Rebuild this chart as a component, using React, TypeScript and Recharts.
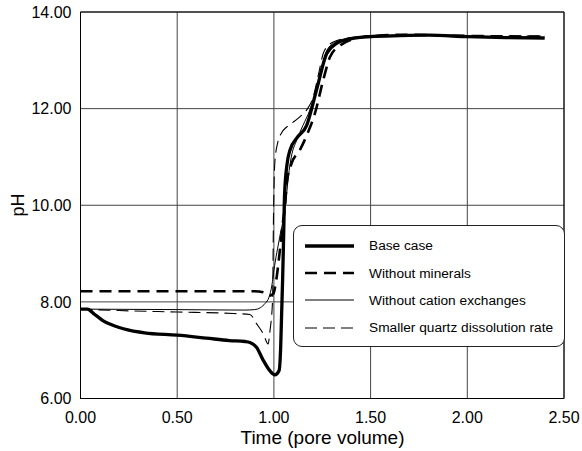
import { LineChart, Line, XAxis, YAxis, CartesianGrid, Legend, ReferenceArea } from 'recharts';

// [pore volume, pH]
const baseCase: [number, number][] = [
    [0, 7.85], [0.035, 7.85], [0.05, 7.82], [0.07, 7.75], [0.09, 7.69], [0.12, 7.6], [0.158, 7.53],
    [0.2, 7.47], [0.245, 7.42], [0.331, 7.36], [0.5, 7.31], [0.65, 7.25], [0.77, 7.2], [0.85, 7.18],
    [0.876, 7.16], [0.91, 7.06], [0.945, 6.79], [0.98, 6.57], [1.005, 6.49], [1.027, 6.58],
    [1.035, 7.06], [1.04, 7.76], [1.045, 8.45], [1.05, 9.3], [1.055, 10.2], [1.068, 10.85],
    [1.083, 11.14], [1.12, 11.4], [1.169, 11.65], [1.22, 12.38], [1.273, 13.14], [1.324, 13.35],
    [1.4, 13.45], [1.5, 13.49], [1.65, 13.51], [1.8, 13.52], [2.0, 13.49], [2.2, 13.47], [2.4, 13.46],
];

const withoutMinerals: [number, number][] = [
    [0, 8.22], [0.9, 8.22], [0.945, 8.2], [0.965, 8.15], [0.98, 8.13], [0.997, 8.17], [1.012, 8.45],
    [1.031, 9.07], [1.048, 9.69], [1.057, 9.96], [1.066, 10.45], [1.09, 10.85], [1.134, 11.14],
    [1.17, 11.45], [1.212, 11.9], [1.255, 12.59], [1.29, 13.07], [1.34, 13.3], [1.4, 13.43],
    [1.5, 13.5], [1.7, 13.53], [1.9, 13.51], [2.1, 13.5], [2.4, 13.49],
];

const withoutCationExchanges: [number, number][] = [
    [0, 7.85], [0.5, 7.84], [0.85, 7.83], [0.9, 7.84], [0.93, 7.88], [0.955, 7.97], [0.975, 8.1],
    [0.99, 8.35], [1.0, 8.65], [1.03, 9.34], [1.06, 10.0], [1.075, 10.6], [1.09, 11.0],
    [1.117, 11.34], [1.15, 11.65], [1.186, 11.97], [1.238, 12.66], [1.273, 13.2], [1.32, 13.38],
    [1.4, 13.46], [1.55, 13.5], [1.75, 13.52], [2.0, 13.5], [2.4, 13.48],
];

const smallerQuartzRate: [number, number][] = [
    [0, 7.85], [0.2, 7.82], [0.5, 7.79], [0.79, 7.76], [0.876, 7.74], [0.91, 7.55], [0.945, 7.34],
    [0.97, 7.13], [0.98, 7.41], [0.993, 8.03], [0.998, 9.8], [1.005, 10.9],
    [1.02, 11.3], [1.04, 11.5], [1.066, 11.62], [1.1, 11.72], [1.134, 11.83], [1.169, 11.97],
    [1.203, 12.24], [1.23, 12.7], [1.255, 13.14], [1.28, 13.3], [1.307, 13.38], [1.4, 13.47],
    [1.55, 13.52], [1.75, 13.52], [2.0, 13.5], [2.4, 13.5],
];

const xTicks = [0, 0.5, 1, 1.5, 2, 2.5];
const yTicks = [6, 8, 10, 12, 14];

const series = [
    { name: 'Base case', points: baseCase, width: 3.3, dash: undefined },
    { name: 'Without minerals', points: withoutMinerals, width: 2.6, dash: '12 7' },
    { name: 'Without cation exchanges', points: withoutCationExchanges, width: 1, dash: undefined },
    { name: 'Smaller quartz dissolution rate', points: smallerQuartzRate, width: 1.1, dash: '12 6' },
];

const FONT = '"Liberation Sans", Arial, sans-serif';

const LegendBox = () => (
    <div style={{
        width: 272, height: 122, boxSizing: 'border-box', border: '1px solid #222', borderRadius: 9,
        background: '#fff', paddingTop: 6, fontFamily: FONT, fontSize: 13.7, color: '#000',
    }}>
        {series.map((s) => (
            <div key={s.name} style={{ height: 27.4, display: 'flex', alignItems: 'center' }}>
                <svg width={75} height={10} style={{ display: 'block' }}>
                    <line x1={11} x2={60} y1={5} y2={5} stroke="#000" strokeWidth={s.width} strokeDasharray={s.dash} />
                </svg>
                <span>{s.name}</span>
            </div>
        ))}
    </div>
);

const App = () => {
    return (
        <div style={{ position: 'absolute', left: 0, top: 0, background: '#fff' }}>
            <LineChart width={582} height={451} margin={{ top: 12, right: 18, bottom: 0, left: 0 }} style={{ fontFamily: FONT }}>
                <CartesianGrid stroke="#444" strokeWidth={1} />
                <XAxis
                    type="number"
                    dataKey="x"
                    domain={[0, 2.5]}
                    ticks={xTicks}
                    tickFormatter={(v: number) => v.toFixed(2)}
                    tickLine={false}
                    tickSize={0}
                    tickMargin={13}
                    height={52.5}
                    axisLine={{ stroke: '#000' }}
                    tick={{ fill: '#000', fontSize: 16 }}
                    label={{
                        content: () => (
                            <text x={322.5} y={443.5} textAnchor="middle" fontSize={19} fill="#000">Time (pore volume)</text>
                        ),
                    }}
                />
                <YAxis
                    type="number"
                    domain={[6, 14]}
                    ticks={yTicks}
                    tickFormatter={(v: number) => v.toFixed(2)}
                    tickLine={false}
                    tickSize={0}
                    tickMargin={9}
                    width={80.5}
                    axisLine={{ stroke: '#000' }}
                    tick={{ fill: '#000', fontSize: 16 }}
                    label={{
                        content: () => (
                            <text x={24} y={205} textAnchor="middle" fontSize={18} fill="#000" transform="rotate(-90, 24, 205)">pH</text>
                        ),
                    }}
                />
                <ReferenceArea x1={0} x2={2.5} y1={6} y2={14} fill="none" stroke="#000" strokeWidth={1} />
                {series.map((s) => (
                    <Line
                        key={s.name}
                        name={s.name}
                        data={s.points.map(([x, y]) => ({ x, y }))}
                        dataKey="y"
                        type="monotone"
                        stroke="#000"
                        strokeWidth={s.width}
                        strokeDasharray={s.dash}
                        dot={false}
                        activeDot={false}
                        isAnimationActive={false}
                    />
                ))}
                <Legend
                    layout="vertical"
                    align="center"
                    verticalAlign="middle"
                    wrapperStyle={{ left: 293, top: 225, width: 272, height: 122 }}
                    content={() => <LegendBox />}
                />
            </LineChart>
        </div>
    );
};

export default App;
